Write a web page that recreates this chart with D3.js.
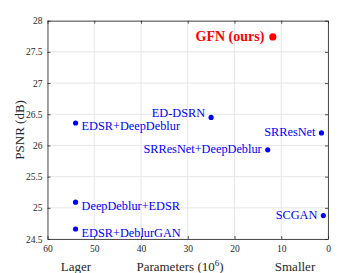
<!DOCTYPE html>
<html><head><meta charset="utf-8">
<script src="https://cdn.jsdelivr.net/npm/d3@7"></script>
<style>body{margin:0;background:#fff}svg{display:block}</style>
</head><body>
<script>
const methods = ["GFN (ours)","ED-DSRN","SRResNet","EDSR+DeepDeblur","SRResNet+DeepDeblur","DeepDeblur+EDSR","EDSR+DeblurGAN","SCGAN"];
const params = [11.8, 25.0, 1.4, 54.0, 12.9, 54.0, 54.0, 1.0];
const psnr = [27.74, 26.45, 26.20, 26.36, 25.93, 25.09, 24.66, 24.875];
const labelSide = ["left","left","left","right","left","right","right","left"];
const xTicks = [60,50,40,30,20,10,0];
const yTicks = [24.5,25,25.5,26,26.5,27,27.5,28];

const W=363,H=273;
const m={l:47.5,r:328,t:20.7,b:239};
const FF="Liberation Serif";
const svg=d3.select("body").append("svg").attr("width",W).attr("height",H);
const x=d3.scaleLinear().domain([60,0]).range([m.l,m.r]);
const y=d3.scaleLinear().domain([24.5,28]).range([m.b,m.t]);

// grid
svg.append("g").selectAll("line").data(xTicks).join("line")
 .attr("x1",d=>x(d)).attr("x2",d=>x(d)).attr("y1",m.t).attr("y2",m.b)
 .attr("stroke","#e6e6e6").attr("stroke-width",1);
svg.append("g").selectAll("line").data(yTicks).join("line")
 .attr("y1",d=>y(d)).attr("y2",d=>y(d)).attr("x1",m.l).attr("x2",m.r)
 .attr("stroke","#e6e6e6").attr("stroke-width",1);

// axes
svg.append("g").attr("transform",`translate(0,${m.b})`)
 .call(d3.axisBottom(x).tickValues(xTicks).tickSizeInner(-3).tickSizeOuter(0).tickPadding(6));
svg.append("g").attr("transform",`translate(${m.l},0)`)
 .call(d3.axisLeft(y).tickValues(yTicks).tickSizeInner(-3).tickSizeOuter(0).tickPadding(5).tickFormat(d=>d3.format("")(d)));
svg.append("g").attr("transform",`translate(0,${m.t})`)
 .call(d3.axisTop(x).tickValues(xTicks).tickSizeInner(-3).tickSizeOuter(0).tickFormat(""));
svg.append("g").attr("transform",`translate(${m.r},0)`)
 .call(d3.axisRight(y).tickValues(yTicks).tickSizeInner(-3).tickSizeOuter(0).tickFormat(""));
svg.selectAll(".domain").attr("stroke","#262626").attr("stroke-width",0.8);
svg.selectAll(".tick line").attr("stroke","#262626").attr("stroke-width",0.8);
svg.selectAll(".tick text").attr("font-size",9.5).attr("fill","#262626");

// points
svg.append("g").selectAll("circle").data(methods).join("circle")
 .attr("cx",(d,i)=>x(params[i])).attr("cy",(d,i)=>y(psnr[i]))
 .attr("r",(d,i)=>i===0?3.6:2.6)
 .attr("fill",(d,i)=>i===0?"#ff0000":"#0000ff");

// labels
svg.append("g").selectAll("text").data(methods).join("text")
 .attr("x",(d,i)=>labelSide[i]==="right"?x(params[i])+6:x(params[i])-(i===0?8.5:6))
 .attr("y",(d,i)=>{const py=y(psnr[i]); if(i===0) return py+4.5; if(labelSide[i]==="right") return py+7.5; if(i===1) return py-0.5; return py+3;})
 .attr("text-anchor",(d,i)=>labelSide[i]==="right"?"start":"end")
 .attr("font-size",(d,i)=>i===0?14:12.3)
 .attr("font-weight",(d,i)=>i===0?"bold":"normal")
 .attr("fill",(d,i)=>i===0?"#ff0000":"#0000ff")
 .text(d=>d);

// axis titles
svg.append("text").attr("transform",`translate(24,${(m.t+m.b)/2}) rotate(-90)`)
 .attr("text-anchor","middle").attr("font-size",13).attr("fill","#262626")
 .text("PSNR (dB)");
const xt=svg.append("text").attr("x",180).attr("y",271).attr("text-anchor","middle")
 .attr("font-size",13).attr("fill","#262626");
xt.append("tspan").text("Parameters (10");
xt.append("tspan").attr("font-size",9).attr("dy",-5).text("6");
xt.append("tspan").attr("dy",5).text(")");
svg.append("text").attr("x",76).attr("y",271).attr("text-anchor","middle")
 .attr("font-size",13).attr("fill","#262626").text("Lager");
svg.append("text").attr("x",295).attr("y",271).attr("text-anchor","middle")
 .attr("font-size",13).attr("fill","#262626").text("Smaller");

svg.selectAll("text").style("font-family",FF);
</script>
</body></html>
